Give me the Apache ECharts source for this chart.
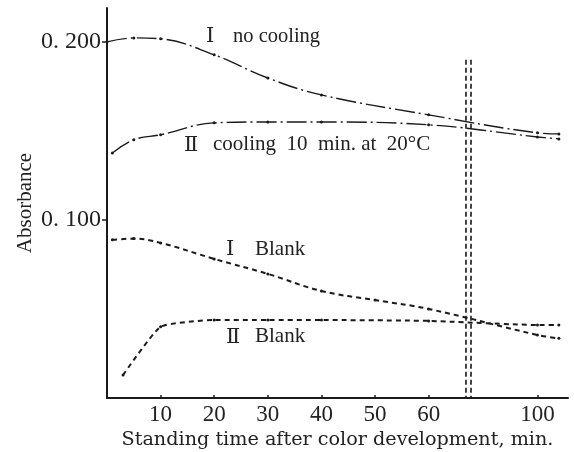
<!DOCTYPE html>
<html>
<head>
<meta charset="utf-8">
<script src="https://cdn.jsdelivr.net/npm/echarts@6/dist/echarts.min.js"></script>
<style>
  html, body { margin: 0; padding: 0; background: #fff; }
  #chart { width: 574px; height: 452px; }
</style>
</head>
<body>
<div id="chart"></div>
<script>
// Standing time (min) and absorbance for each curve
const xNoCooling = [0, 5, 10, 20, 30, 40, 60, 100, 104];
const yNoCooling = [0.200, 0.2022, 0.2017, 0.1927, 0.1797, 0.1702, 0.1590, 0.1489, 0.1483];

const xCooling = [1, 5, 10, 20, 30, 40, 60, 100, 104];
const yCooling = [0.1376, 0.1450, 0.1478, 0.1545, 0.1550, 0.1550, 0.1534, 0.1466, 0.1455];

const xBlankI = [1, 5, 10, 20, 30, 40, 50, 60, 100, 104];
const yBlankI = [0.0888, 0.0895, 0.0871, 0.0781, 0.0697, 0.0601, 0.0550, 0.0500, 0.0354, 0.0335];

const xBlankII = [3, 10, 20, 30, 40, 60, 100, 104];
const yBlankII = [0.0129, 0.0400, 0.0438, 0.0438, 0.0438, 0.0433, 0.0410, 0.0410];

const xTickValues = [10, 20, 30, 40, 50, 60, 100];
const yTickValues = [0.1, 0.2];

// The time axis is broken between 60 and 100 min: that stretch is compressed.
function disp(x) {
  if (x <= 60) return x;
  if (x >= 100) return x - 19.7;
  return 60 + (x - 60) * (20.3 / 40);
}
function undisp(d) {
  if (d <= 60) return d;
  if (d >= 80.3) return d + 19.7;
  return 60 + (d - 60) * (40 / 20.3);
}
const pts = (xs, ys) => xs.map((x, i) => [disp(x), ys[i]]);

const INK = '#1a1a1a';
const TEXT = '#222';
const SERIF = '"Liberation Serif", "DejaVu Serif", serif';

const chart = echarts.init(document.getElementById('chart'));
chart.setOption({
  animation: false,
  backgroundColor: '#fff',
  grid: { left: 107, right: 6, top: 8, bottom: 54, containLabel: false, outerBoundsMode: 'none' },
  xAxis: {
    type: 'value', min: 0, max: 86,
    name: 'Standing time after color development, min.',
    nameLocation: 'middle', nameGap: 28,
    nameTextStyle: { color: TEXT, fontFamily: '"DejaVu Serif", serif', fontSize: 19.2 },
    axisLine: { lineStyle: { color: INK, width: 2 } },
    axisTick: { inside: true, length: 3, customValues: xTickValues.map(disp), lineStyle: { color: INK, width: 1.5 } },
    axisLabel: {
      customValues: xTickValues.map(disp),
      formatter: v => String(Math.round(undisp(v))),
      color: TEXT, fontFamily: SERIF, fontSize: 23, margin: 5
    },
    splitLine: { show: false }
  },
  yAxis: {
    type: 'value', min: 0, max: 0.219,
    name: 'Absorbance',
    nameLocation: 'middle', nameGap: 71, nameMoveOverlap: false,
    nameTextStyle: { color: TEXT, fontFamily: SERIF, fontSize: 21 },
    axisLine: { lineStyle: { color: INK, width: 2 } },
    axisTick: { length: 5, customValues: yTickValues, lineStyle: { color: INK, width: 1.5 } },
    axisLabel: {
      customValues: yTickValues,
      formatter: v => v.toFixed(3).replace('.', '. '),
      color: TEXT, fontFamily: SERIF, fontSize: 24, margin: 6
    },
    splitLine: { show: false }
  },
  series: [
    {
      name: 'I no cooling', type: 'line', smooth: 0.4,
      data: pts(xNoCooling, yNoCooling),
      symbol: 'circle', symbolSize: 3,
      itemStyle: { color: INK },
      lineStyle: { color: INK, width: 1.4, type: [20, 4, 2, 4] }
    },
    {
      name: 'II cooling 10 min. at 20°C', type: 'line', smooth: 0.4,
      data: pts(xCooling, yCooling),
      symbol: 'circle', symbolSize: 3,
      itemStyle: { color: INK },
      lineStyle: { color: INK, width: 1.4, type: [20, 4, 2, 4] },
      markLine: {
        silent: true, symbol: 'none', label: { show: false },
        lineStyle: { color: INK, width: 1.6, type: [5, 3] },
        data: [
          [{ coord: [67.0, 0.190] }, { coord: [67.0, 0] }],
          [{ coord: [67.95, 0.190] }, { coord: [67.95, 0] }]
        ]
      }
    },
    {
      name: 'I Blank', type: 'line', smooth: 0.4,
      data: pts(xBlankI, yBlankI),
      symbol: 'circle', symbolSize: 3,
      itemStyle: { color: INK },
      lineStyle: { color: INK, width: 2, type: [5, 4] }
    },
    {
      name: 'II Blank', type: 'line', smooth: 0.15,
      data: pts(xBlankII, yBlankII),
      symbol: 'circle', symbolSize: 3,
      itemStyle: { color: INK },
      lineStyle: { color: INK, width: 2, type: [5, 4] }
    }
  ],
  graphic: [
    { type: 'text', left: 206, top: 26, style: { text: 'Ⅰ', font: '21px ' + SERIF, fill: TEXT } },
    { type: 'text', left: 233, top: 26, style: { text: 'no cooling', font: '20.5px ' + SERIF, fill: TEXT } },
    { type: 'text', left: 184, top: 135, style: { text: 'Ⅱ', font: '21px ' + SERIF, fill: TEXT } },
    { type: 'text', left: 213, top: 134, style: { text: 'cooling  10  min. at  20°C', font: '21px ' + SERIF, fill: TEXT } },
    { type: 'text', left: 226, top: 239, style: { text: 'Ⅰ', font: '21px ' + SERIF, fill: TEXT } },
    { type: 'text', left: 255, top: 239, style: { text: 'Blank', font: '21px ' + SERIF, fill: TEXT } },
    { type: 'text', left: 226, top: 327, style: { text: 'Ⅱ', font: '21px ' + SERIF, fill: TEXT } },
    { type: 'text', left: 255, top: 326, style: { text: 'Blank', font: '21px ' + SERIF, fill: TEXT } }
  ]
});
</script>
</body>
</html>
